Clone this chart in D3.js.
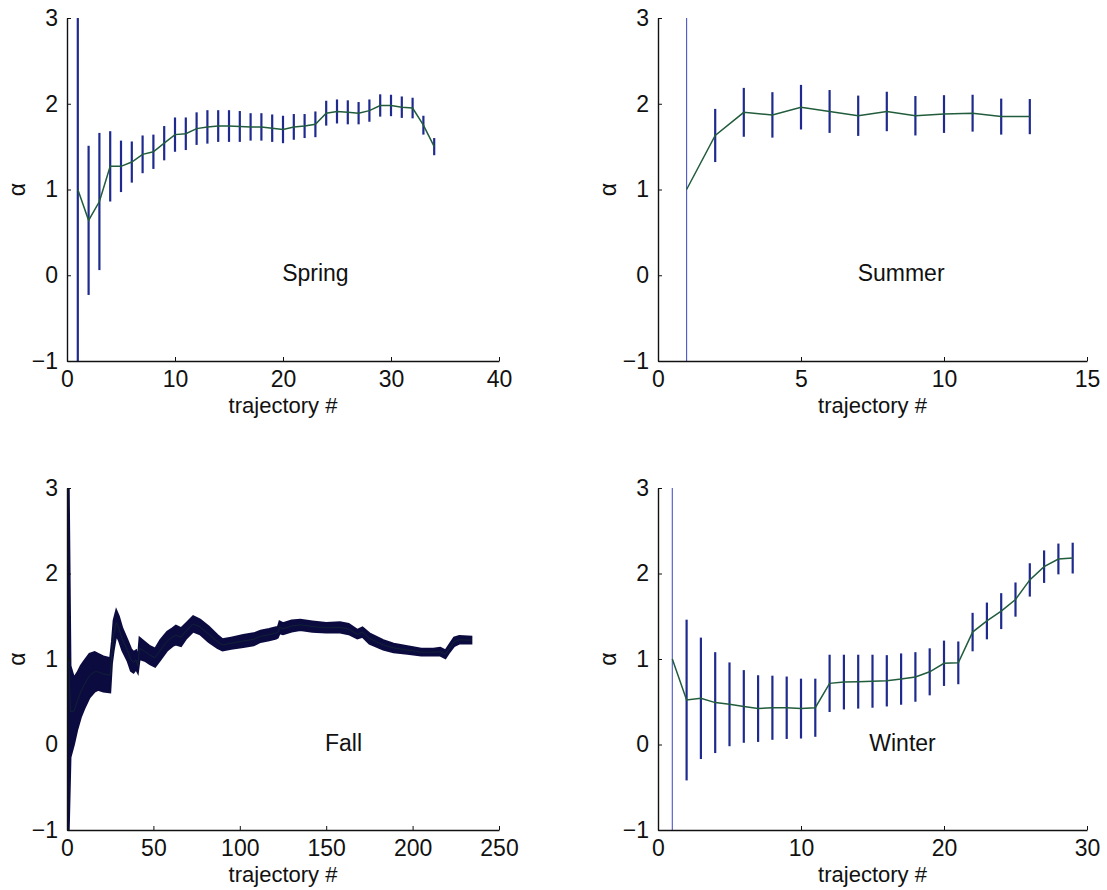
<!DOCTYPE html>
<html>
<head>
<meta charset="utf-8">
<script src="https://cdn.jsdelivr.net/npm/d3@7"></script>
<style>
  body { margin: 0; background: #fff; }
  text { font-family: "Liberation Sans", Arial, Helvetica, sans-serif; fill: #111; }
  .axis path, .axis line { stroke: #111; }
</style>
</head>
<body>
<div id="chart"></div>
<script>
// values: mean alpha and half-width of error bar per trajectory
var springMean = [1.0, 0.64, 0.86, 1.27, 1.27, 1.32, 1.41, 1.44, 1.54, 1.64, 1.65, 1.71, 1.73, 1.74, 1.74, 1.735, 1.73,
    1.73, 1.715, 1.70, 1.73, 1.74, 1.76, 1.89, 1.91, 1.90, 1.89, 1.92, 1.98, 1.98, 1.96, 1.95, 1.75, 1.50];
var springErr = [4, 0.87, 0.80, 0.41, 0.30, 0.24, 0.22, 0.20, 0.20, 0.20, 0.19, 0.19, 0.195, 0.185, 0.185, 0.18, 0.16,
    0.16, 0.16, 0.16, 0.15, 0.14, 0.15, 0.145, 0.14, 0.14, 0.13, 0.13, 0.13, 0.125, 0.125, 0.12, 0.11, 0.10];

var summerMean = [1.0, 1.63, 1.90, 1.87, 1.96, 1.91, 1.86, 1.91, 1.86, 1.88, 1.89, 1.85, 1.85];
var summerErr = [4, 0.31, 0.285, 0.265, 0.26, 0.25, 0.235, 0.23, 0.23, 0.22, 0.215, 0.21, 0.205];

var winterMean = [1.0, 0.52, 0.54, 0.49, 0.47, 0.445, 0.42, 0.43, 0.43, 0.42, 0.43, 0.715, 0.73, 0.735, 0.74,
    0.745, 0.765, 0.79, 0.85, 0.95, 0.955, 1.315, 1.445, 1.56, 1.695, 1.925, 2.08, 2.17, 2.18];
var winterErr = [4, 0.94, 0.71, 0.59, 0.49, 0.425, 0.39, 0.375, 0.365, 0.35, 0.34, 0.335, 0.32, 0.315, 0.31,
    0.30, 0.30, 0.29, 0.275, 0.265, 0.25, 0.225, 0.215, 0.21, 0.20, 0.195, 0.19, 0.18, 0.18];

// fall has ~235 trajectories, the bars merge into a band: upper / lower edge sampled along it
var fallTraj = [1, 2, 4, 6, 8, 10, 13, 16, 18, 21, 25, 26, 27, 28.5, 30, 32, 35, 37, 38.5, 40, 41, 42, 45, 48, 51,
    54, 58, 61, 63, 66, 69, 73, 77, 82, 87, 90, 95, 102, 108, 112, 117, 121, 122, 123, 125, 130, 135, 142, 150,
    158, 163, 168, 171, 175, 183, 189, 197, 205, 212, 216, 219, 221, 224, 227, 234];
var fallHigh = [3, 0.92, 0.78, 0.84, 0.92, 0.98, 1.06, 1.08, 1.06, 1.03, 1.01, 1.2, 1.45, 1.57, 1.5, 1.36, 1.22,
    1.12, 1.08, 1.1, 1.0, 1.25, 1.2, 1.15, 1.12, 1.22, 1.32, 1.36, 1.39, 1.36, 1.42, 1.5, 1.46, 1.38, 1.28, 1.23,
    1.25, 1.28, 1.3, 1.33, 1.35, 1.37, 1.37, 1.44, 1.42, 1.45, 1.46, 1.44, 1.42, 1.43, 1.41, 1.34, 1.37, 1.3,
    1.22, 1.18, 1.15, 1.12, 1.12, 1.13, 1.1, 1.16, 1.25, 1.27, 1.26];
var fallLow = [-1, -0.15, 0.0, 0.18, 0.32, 0.42, 0.55, 0.62, 0.64, 0.62, 0.61, 0.95, 1.1, 1.28, 1.22, 1.1, 0.98,
    0.86, 0.84, 0.88, 0.84, 1.0, 0.98, 0.94, 0.91, 0.99, 1.1, 1.15, 1.17, 1.15, 1.24, 1.32, 1.29, 1.2, 1.13, 1.1,
    1.12, 1.14, 1.16, 1.2, 1.22, 1.24, 1.25, 1.3, 1.29, 1.32, 1.34, 1.32, 1.31, 1.31, 1.29, 1.24, 1.26, 1.18,
    1.11, 1.08, 1.06, 1.04, 1.04, 1.04, 1.01, 1.07, 1.15, 1.18, 1.18];

var yTicks = [-1, 0, 1, 2, 3];
var panels = [
    { name: "Spring", mean: springMean, err: springErr, xMax: 40, xTicks: [0, 10, 20, 30, 40], labelAt: 23,
      left: 67, right: 499, top: 18, bottom: 361, thinFirst: false },
    { name: "Summer", mean: summerMean, err: summerErr, xMax: 15, xTicks: [0, 5, 10, 15], labelAt: 8.5,
      left: 658, right: 1087, top: 18, bottom: 361, thinFirst: true },
    { name: "Fall", band: true, xMax: 250, xTicks: [0, 50, 100, 150, 200, 250], labelAt: 160,
      left: 67, right: 499, top: 488, bottom: 830 },
    { name: "Winter", mean: winterMean, err: winterErr, xMax: 30, xTicks: [0, 10, 20, 30], labelAt: 17.1,
      left: 658, right: 1087, top: 488, bottom: 830, thinFirst: true }
];

var barColor = "#1e2a8e";
var lineColor = "#215c3c";

var svg = d3.select("#chart").append("svg")
    .attr("width", 1107)
    .attr("height", 890);

panels.forEach(function(p, k) {
    var x = d3.scaleLinear().domain([0, p.xMax]).range([p.left, p.right]);
    var y = d3.scaleLinear().domain([-1, 3]).range([p.bottom, p.top]);

    var g = svg.append("g");

    svg.append("clipPath").attr("id", "clip" + k)
        .append("rect")
        .attr("x", p.left).attr("y", p.top)
        .attr("width", p.right - p.left).attr("height", p.bottom - p.top);

    var plot = g.append("g").attr("clip-path", "url(#clip" + k + ")");

    if (p.band) {
        var rows = fallTraj.map(function(t, i) { return { t: t, hi: fallHigh[i], lo: fallLow[i] }; });
        var area = d3.area()
            .x(function(d) { return x(d.t); })
            .y0(function(d) { return y(d.lo); })
            .y1(function(d) { return y(d.hi); });
        plot.append("path")
            .datum(rows)
            .attr("d", area)
            .attr("fill", "#0b0b40")
            .attr("stroke", "#0b0b40")
            .attr("stroke-width", 2)
            .attr("stroke-linejoin", "miter");
        plot.append("path")
            .datum(rows)
            .attr("d", d3.line()
                .x(function(d) { return x(d.t); })
                .y(function(d) { return y((d.hi + d.lo) / 2); }))
            .attr("fill", "none")
            .attr("stroke", "#12302a")
            .attr("stroke-width", 0.6);
    } else {
        var rows = p.mean.map(function(m, i) { return { t: i + 1, m: m, e: p.err[i] }; });

        plot.selectAll(".bar")
            .data(rows)
            .enter()
            .append("line")
            .attr("class", "bar")
            .attr("x1", function(d) { return x(d.t); })
            .attr("x2", function(d) { return x(d.t); })
            .attr("y1", function(d) { return y(d.m - d.e); })
            .attr("y2", function(d) { return y(d.m + d.e); })
            .attr("stroke", function(d, i) { return (p.thinFirst && i === 0) ? "#4b55c8" : barColor; })
            .attr("stroke-width", function(d, i) { return (p.thinFirst && i === 0) ? 1.1 : 2.2; });

        plot.append("path")
            .datum(rows)
            .attr("d", d3.line()
                .x(function(d) { return x(d.t); })
                .y(function(d) { return y(d.m); }))
            .attr("fill", "none")
            .attr("stroke", lineColor)
            .attr("stroke-width", 1.5);
    }

    // matlab style: ticks point inwards, only left and bottom lines
    var xAxis = g.append("g")
        .attr("class", "axis")
        .attr("transform", "translate(0," + p.bottom + ")")
        .call(d3.axisBottom(x).tickValues(p.xTicks).tickFormat(d3.format("d"))
            .tickSizeInner(-4).tickSizeOuter(0).tickPadding(10));
    var yAxis = g.append("g")
        .attr("class", "axis")
        .attr("transform", "translate(" + p.left + ",0)")
        .call(d3.axisLeft(y).tickValues(yTicks).tickFormat(d3.format("d"))
            .tickSizeInner(-4).tickSizeOuter(0).tickPadding(9));

    [xAxis, yAxis].forEach(function(a) {
        a.select(".domain").attr("stroke-width", 1.4);
        a.selectAll("text").attr("font-size", 23).attr("fill", "#111")
            .attr("font-family", "'Liberation Sans', Arial, sans-serif");
    });

    g.append("text")
        .attr("x", (p.left + p.right) / 2)
        .attr("y", p.bottom + 52)
        .attr("text-anchor", "middle")
        .attr("font-size", 22)
        .text("trajectory #");

    g.append("text")
        .attr("transform", "translate(" + (p.left - 48) + "," + y(1) + ") rotate(-90)")
        .attr("text-anchor", "middle")
        .attr("dominant-baseline", "middle")
        .attr("font-size", 23)
        .text("α");

    g.append("text")
        .attr("x", x(p.labelAt))
        .attr("y", y(0))
        .attr("text-anchor", "middle")
        .attr("dominant-baseline", "middle")
        .attr("font-size", 23)
        .text(p.name);
});
</script>
</body>
</html>
